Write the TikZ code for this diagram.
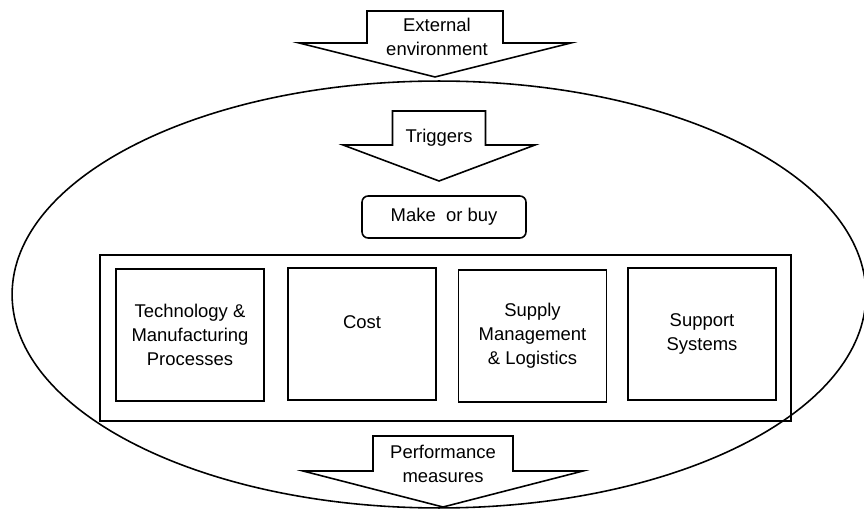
\documentclass[tikz,border=0pt]{standalone}
\usepackage{fontspec}
\setmainfont{Liberation Sans}
\usetikzlibrary{shapes.geometric}

\newcommand{\downarrowblock}[7]{%
  \draw[blockarrow] ({#2-#3},#4) -- ({#2+#3},#4) -- ({#2+#3},#5) -- ({#2+#6},#5)
    -- (#2,#7) coordinate (#1 tip) -- ({#2-#6},#5) -- ({#2-#3},#5) -- cycle;}

\begin{document}
\begin{tikzpicture}[x=0.02cm, y=-0.02cm, line width=0.9pt,
                every node/.style = {font=\fontsize{10.5}{13.6}\selectfont, align=center},
                blockarrow/.style = {draw, line join=miter, fill=white},
                factor/.style = {draw, minimum width=2.96cm, minimum height=2.64cm, inner sep=0pt}]
    \useasboundingbox (0,0) rectangle (864,516);
    \node[draw, ellipse, inner sep=0pt, minimum width=17.08cm, minimum height=8.54cm] (firm) at (439,294.5) {};
    \downarrowblock{external}{435}{68}{11}{43}{136}{77}
    \node (externaltext) at (437,37) {External\\environment};
    \downarrowblock{triggers}{439}{46.5}{111}{145}{96}{181}
    \node (triggerstext) at (439,138) {Triggers};
    \node[draw, rounded corners=3.5pt, minimum width=3.28cm, minimum height=0.84cm] (make) at (444,217) {Make\ \ or buy};
    \node[draw, minimum width=13.82cm, minimum height=3.32cm] (frame) at (445.5,338) {};
    \node[factor] (tech) at (190,335) {Technology \&\\Manufacturing\\Processes};
    \node[factor] (cost) at (362,334) {Cost\\~};
    \node[factor] (supply) at (532.5,336) {Supply\\Management\\\& Logistics};
    \node[factor] (support) at (702,334) {Support\\Systems};
    \downarrowblock{performance}{443}{70}{436}{471}{140}{507}
    \node (performancetext) at (443,464) {Performance\\measures};
\end{tikzpicture}
\end{document}
